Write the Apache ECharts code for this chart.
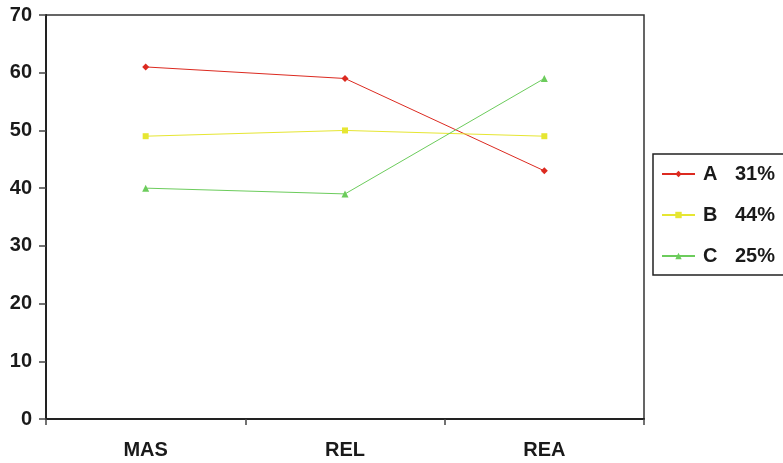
<!DOCTYPE html>
<html><head><meta charset="utf-8">
<script src="https://cdn.jsdelivr.net/npm/echarts@6/dist/echarts.min.js"></script>
<style>html,body{margin:0;padding:0;background:#fff}#c{width:783px;height:463px}</style>
</head><body><div id="c"></div>
<script>
var categories = ['MAS', 'REL', 'REA'];
var seriesNames = ['A', 'B', 'C'];
var percents = ['31%', '44%', '25%'];
var valuesA = [61, 59, 43];
var valuesB = [49, 50, 49];
var valuesC = [40, 39, 59];
var yTicks = [0, 10, 20, 30, 40, 50, 60, 70];

var colors = ['#dc2a20', '#e6e632', '#6ccc5c'];
var symbols = ['diamond', 'rect', 'triangle'];
var dataList = [valuesA, valuesB, valuesC];

var chart = echarts.init(document.getElementById('c'), null, {renderer: 'canvas'});
var font = 'Liberation Sans, Arial, sans-serif';
var fs = 20;
chart.setOption({
  animation: false,
  backgroundColor: '#fff',
  grid: {left: 46, right: 139, top: 15, bottom: 44, show: true, borderColor: '#333', borderWidth: 1.5, backgroundColor: 'transparent'},
  xAxis: {
    type: 'category', data: categories, boundaryGap: true,
    axisLine: {lineStyle: {color: '#222', width: 2}},
    axisTick: {show: true, inside: false, length: 6, lineStyle: {color: '#444', width: 1.5}},
    axisLabel: {fontFamily: font, fontWeight: 'bold', fontSize: fs, color: '#1a1a1a', margin: 21}
  },
  yAxis: {
    type: 'value', min: yTicks[0], max: yTicks[yTicks.length - 1], interval: 10,
    axisLine: {show: true, lineStyle: {color: '#222', width: 2}},
    axisTick: {show: true, length: 7, lineStyle: {color: '#444', width: 1.5}},
    splitLine: {show: false},
    axisLabel: {fontFamily: font, fontWeight: 'bold', fontSize: fs, color: '#1a1a1a', margin: 14}
  },
  legend: {
    orient: 'vertical', left: 653, top: 154,
    padding: [10, 60, 9, 8],
    borderColor: '#222', borderWidth: 1.5,
    itemWidth: 33, itemHeight: 8, itemGap: 21,
    data: seriesNames,
    formatter: function (name) {
      return '{n|' + name + '}{p|' + percents[seriesNames.indexOf(name)] + '}';
    },
    textStyle: {
      fontFamily: font, fontWeight: 'bold', fontSize: fs, color: '#1a1a1a',
      rich: {
        n: {fontFamily: font, fontWeight: 'bold', fontSize: fs, color: '#1a1a1a', width: 32, padding: [0, 0, 0, 3], lineHeight: 22},
        p: {fontFamily: font, fontWeight: 'bold', fontSize: fs, color: '#1a1a1a', lineHeight: 22}
      }
    }
  },
  series: seriesNames.map(function (n, i) {
    return {
      name: n, type: 'line', data: dataList[i],
      symbol: symbols[i], symbolSize: i === 1 ? 6 : 7,
      lineStyle: {color: colors[i], width: 1},
      itemStyle: {color: colors[i]}
    };
  })
});
</script></body></html>
